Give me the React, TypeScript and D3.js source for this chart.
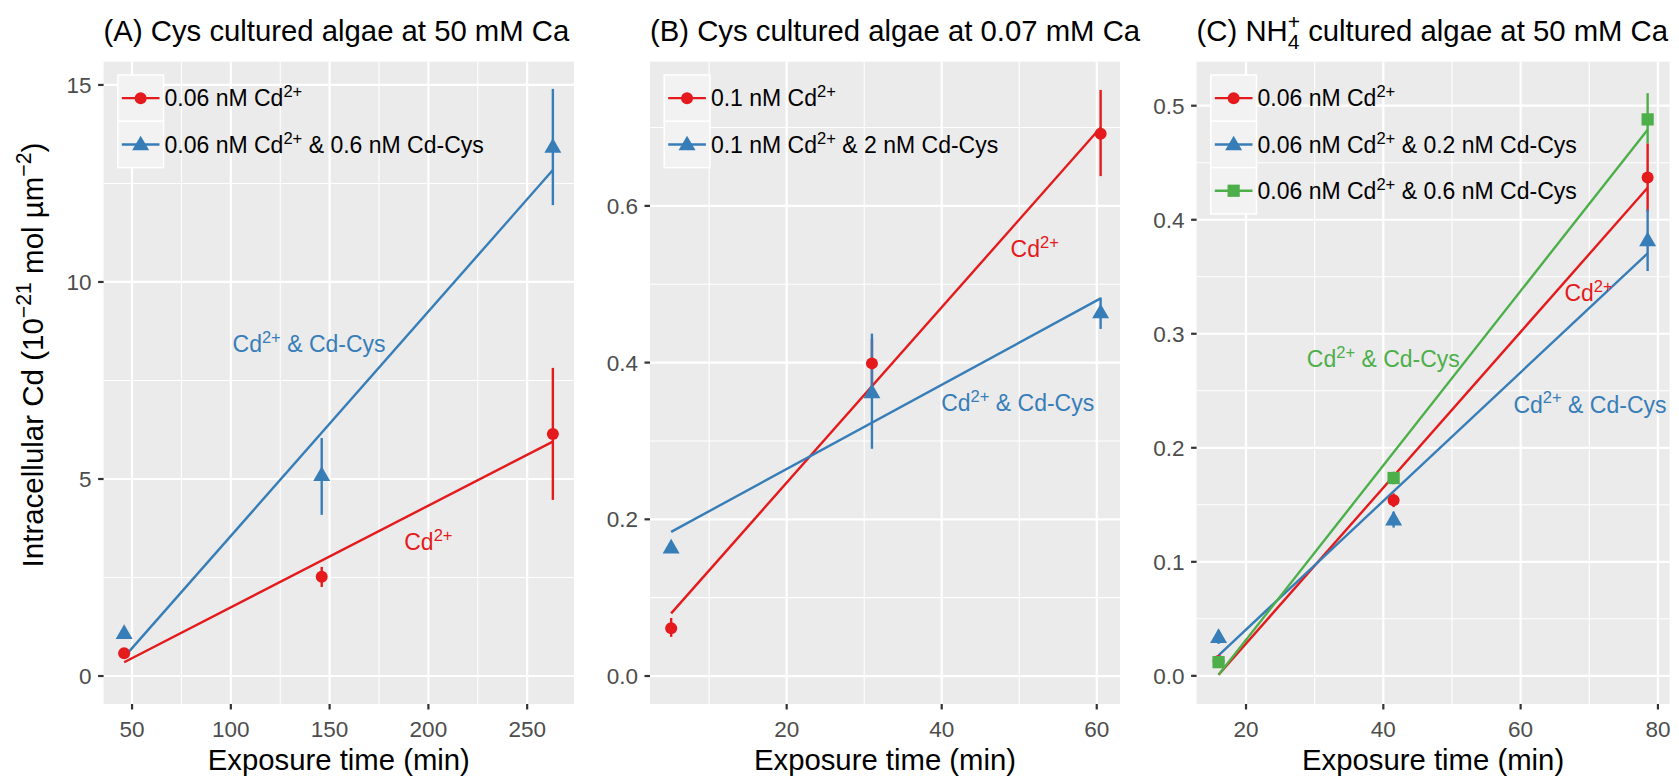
import React from 'react';
import * as d3 from 'd3';

const W = 1679;
const H = 778;
const RED = '#e41a1c';
const BLUE = '#377eb8';
const GREEN = '#4daf4a';
const FONT = '"Liberation Sans", Arial, Helvetica, sans-serif';

// ---------- Panel A data ----------
const timeA = [46, 146, 263];
const cdA = [0.58, 2.52, 6.14];
const cdA_lo = [0.48, 2.26, 4.47];
const cdA_hi = [0.68, 2.77, 7.82];
const cysA = [1.09, 5.1, 13.43];
const cysA_lo = [1.0, 4.09, 11.95];
const cysA_hi = [1.18, 6.04, 14.9];
const fitTimeA = [46, 263];
const fitCdA = [0.35, 5.95];
const fitCysA = [0.48, 12.84];
const xDomA = [35.6, 273.7];
const yDomA = [-0.71, 15.59];
const xTicksA = [50, 100, 150, 200, 250];
const yTicksA = [0, 5, 10, 15];

// ---------- Panel B data ----------
const timeB = [5.1, 31, 60.5];
const cdB = [0.061, 0.399, 0.692];
const cdB_lo = [0.05, 0.37, 0.638];
const cdB_hi = [0.074, 0.43, 0.748];
const cysB = [0.164, 0.362, 0.464];
const cysB_lo = [0.158, 0.29, 0.443];
const cysB_hi = [0.17, 0.437, 0.483];
const fitTimeB = [5.1, 60.5];
const fitCdB = [0.08, 0.7];
const fitCysB = [0.184, 0.482];
const xDomB = [2.37, 63.0];
const yDomB = [-0.0357, 0.784];
const xTicksB = [20, 40, 60];
const yTicksB = [0, 0.2, 0.4, 0.6];

// ---------- Panel C data ----------
const timeC = [16, 41.5, 78.5];
const cdC = [0.013, 0.154, 0.437];
const cdC_lo = [0.008, 0.148, 0.407];
const cdC_hi = [0.018, 0.16, 0.467];
const cys02C = [0.034, 0.137, 0.382];
const cys02C_lo = [0.028, 0.13, 0.355];
const cys02C_hi = [0.04, 0.144, 0.409];
const cys06C = [0.012, 0.1735, 0.488];
const cys06C_lo = [0.008, 0.168, 0.467];
const cys06C_hi = [0.016, 0.179, 0.511];
const fitTimeC = [16, 78.5];
const fitCdC = [0.001, 0.428];
const fitCys02C = [0.018, 0.3705];
const fitCys06C = [0.001, 0.479];
const xDomC = [12.8, 81.7];
const yDomC = [-0.0247, 0.5386];
const xTicksC = [20, 40, 60, 80];
const yTicksC = [0, 0.1, 0.2, 0.3, 0.4, 0.5];

type Shape = 'circle' | 'triangle' | 'square';
type Part = { t: string; sup?: boolean; sub?: boolean; dx?: number };
interface Series {
  color: string;
  shape: Shape;
  x: number[];
  y: number[];
  lo: number[];
  hi: number[];
  fitX: number[];
  fitY: number[];
  legend: Part[];
}
interface Note { x: number; y: number; color: string; parts: Part[] }

const CD2: Part[] = [{ t: 'Cd' }, { t: '2+', sup: true }];
const CD2CYS: Part[] = [{ t: 'Cd' }, { t: '2+', sup: true }, { t: ' & Cd-Cys' }];

function rich(parts: Part[], fs: number) {
  let cur = 0;
  return parts.map((p, i) => {
    const target = p.sup ? -0.4 * fs : p.sub ? 0.28 * fs : 0;
    const dy = target - cur;
    cur = target;
    return (
      <tspan key={i} dy={dy} dx={p.dx || 0} fontSize={p.sup || p.sub ? fs * 0.72 : fs}>
        {p.t}
      </tspan>
    );
  });
}

const PT = 61.7;
const PB = 704;
const TICK_FS = 22.5;
const LEG_FS = 23;
const TITLE_FS = 29.3;
const YTITLE_FS = 29.5;

function Marker({ shape, cx, cy, color }: { shape: Shape; cx: number; cy: number; color: string }) {
  if (shape === 'circle') return <circle cx={cx} cy={cy} r={6} fill={color} />;
  const sym = shape === 'triangle' ? d3.symbolTriangle : d3.symbolSquare;
  const size = shape === 'triangle' ? 125 : 150;
  const dy = shape === 'triangle' ? 1 : 0;
  return <path d={d3.symbol().type(sym).size(size)() || ''} transform={`translate(${cx},${cy + dy})`} fill={color} />;
}

function minorTicks(major: number[], dom: number[]) {
  const step = major[1] - major[0];
  const out: number[] = [];
  for (let v = major[0] - step / 2; v <= dom[1]; v += step) {
    if (v >= dom[0]) out.push(v);
  }
  return out;
}

interface PanelProps {
  x0: number;
  x1: number;
  xDom: number[];
  yDom: number[];
  xTicks: number[];
  yTicks: number[];
  yFmt: (v: number) => string;
  series: Series[];
  notes: Note[];
  title: Part[];
}

function Panel({ x0, x1, xDom, yDom, xTicks, yTicks, yFmt, series, notes, title }: PanelProps) {
  const xs = d3.scaleLinear().domain(xDom).range([x0, x1]);
  const ys = d3.scaleLinear().domain(yDom).range([PB, PT]);
  const line = d3.line<[number, number]>().x((d) => xs(d[0])).y((d) => ys(d[1]));
  const xMinor = minorTicks(xTicks, xDom);
  const yMinor = minorTicks(yTicks, yDom);
  const keyW = 45.7;
  const keyH = 46.3;
  const legX = x0 + 14.2;
  const legY = PT + 13.3;
  return (
    <g>
      <rect x={x0} y={PT} width={x1 - x0} height={PB - PT} fill="#ebebeb" />
      {xMinor.map((v) => (
        <line key={'xm' + v} x1={xs(v)} x2={xs(v)} y1={PT} y2={PB} stroke="#fff" strokeWidth={1.1} />
      ))}
      {yMinor.map((v) => (
        <line key={'ym' + v} x1={x0} x2={x1} y1={ys(v)} y2={ys(v)} stroke="#fff" strokeWidth={1.1} />
      ))}
      {xTicks.map((v) => (
        <line key={'xM' + v} x1={xs(v)} x2={xs(v)} y1={PT} y2={PB} stroke="#fff" strokeWidth={2.2} />
      ))}
      {yTicks.map((v) => (
        <line key={'yM' + v} x1={x0} x2={x1} y1={ys(v)} y2={ys(v)} stroke="#fff" strokeWidth={2.2} />
      ))}
      {series.map((s, i) => (
        <path
          key={'fit' + i}
          d={line(s.fitX.map((x, j) => [x, s.fitY[j]] as [number, number])) || ''}
          fill="none"
          stroke={s.color}
          strokeWidth={2.4}
        />
      ))}
      {series.map((s, i) => (
        <g key={'eb' + i}>
          {s.x.map((x, j) => (
            <line key={j} x1={xs(x)} x2={xs(x)} y1={ys(s.lo[j])} y2={ys(s.hi[j])} stroke={s.color} strokeWidth={2.4} />
          ))}
        </g>
      ))}
      {series.map((s, i) => (
        <g key={'pt' + i}>
          {s.x.map((x, j) => (
            <Marker key={j} shape={s.shape} cx={xs(x)} cy={ys(s.y[j])} color={s.color} />
          ))}
        </g>
      ))}
      {/* legend */}
      {series.map((s, i) => {
        const ky = legY + i * keyH;
        return (
          <g key={'lg' + i}>
            <rect x={legX} y={ky} width={keyW} height={keyH} fill="#f2f2f2" stroke="#fff" strokeWidth={1.5} />
            <line x1={legX + 4} x2={legX + keyW - 4} y1={ky + keyH / 2} y2={ky + keyH / 2} stroke={s.color} strokeWidth={2.4} />
            <Marker shape={s.shape} cx={legX + keyW / 2} cy={ky + keyH / 2} color={s.color} />
            <text
              x={legX + keyW + 1}
              y={ky + keyH / 2 + 0.36 * LEG_FS}
              fontSize={LEG_FS}
              fill="#000"
              style={{ whiteSpace: 'pre' }}
            >
              {rich(s.legend, LEG_FS)}
            </text>
          </g>
        );
      })}
      {notes.map((n, i) => (
        <text
          key={'nt' + i}
          x={xs(n.x)}
          y={ys(n.y) + 0.35 * LEG_FS}
          fontSize={LEG_FS}
          fill={n.color}
          textAnchor="middle"
          style={{ whiteSpace: 'pre' }}
        >
          {rich(n.parts, LEG_FS)}
        </text>
      ))}
      {/* axes */}
      {xTicks.map((v) => (
        <g key={'xt' + v}>
          <line x1={xs(v)} x2={xs(v)} y1={PB} y2={PB + 5.5} stroke="#333" strokeWidth={2.2} />
          <text x={xs(v)} y={PB + 33} fontSize={TICK_FS} fill="#4d4d4d" textAnchor="middle">
            {String(v)}
          </text>
        </g>
      ))}
      {yTicks.map((v) => (
        <g key={'yt' + v}>
          <line x1={x0 - 5.5} x2={x0} y1={ys(v)} y2={ys(v)} stroke="#333" strokeWidth={2.2} />
          <text x={x0 - 12} y={ys(v) + 0.36 * TICK_FS} fontSize={TICK_FS} fill="#4d4d4d" textAnchor="end">
            {yFmt(v)}
          </text>
        </g>
      ))}
      <text x={(x0 + x1) / 2} y={770} fontSize={TITLE_FS} fill="#000" textAnchor="middle">
        Exposure time (min)
      </text>
      <text x={x0} y={41} fontSize={TITLE_FS} fill="#000" style={{ whiteSpace: 'pre' }}>
        {rich(title, TITLE_FS)}
      </text>
    </g>
  );
}

export default function App() {
  const seriesA: Series[] = [
    { color: RED, shape: 'circle', x: timeA, y: cdA, lo: cdA_lo, hi: cdA_hi, fitX: fitTimeA, fitY: fitCdA,
      legend: [{ t: '0.06 nM Cd' }, { t: '2+', sup: true }] },
    { color: BLUE, shape: 'triangle', x: timeA, y: cysA, lo: cysA_lo, hi: cysA_hi, fitX: fitTimeA, fitY: fitCysA,
      legend: [{ t: '0.06 nM Cd' }, { t: '2+', sup: true }, { t: ' & 0.6 nM Cd-Cys' }] },
  ];
  const notesA: Note[] = [
    { x: 139.6, y: 8.43, color: BLUE, parts: CD2CYS },
    { x: 200, y: 3.4, color: RED, parts: CD2 },
  ];
  const seriesB: Series[] = [
    { color: RED, shape: 'circle', x: timeB, y: cdB, lo: cdB_lo, hi: cdB_hi, fitX: fitTimeB, fitY: fitCdB,
      legend: [{ t: '0.1 nM Cd' }, { t: '2+', sup: true }] },
    { color: BLUE, shape: 'triangle', x: timeB, y: cysB, lo: cysB_lo, hi: cysB_hi, fitX: fitTimeB, fitY: fitCysB,
      legend: [{ t: '0.1 nM Cd' }, { t: '2+', sup: true }, { t: ' & 2 nM Cd-Cys' }] },
  ];
  const notesB: Note[] = [
    { x: 52, y: 0.545, color: RED, parts: CD2 },
    { x: 49.8, y: 0.3485, color: BLUE, parts: CD2CYS },
  ];
  const seriesC: Series[] = [
    { color: RED, shape: 'circle', x: timeC, y: cdC, lo: cdC_lo, hi: cdC_hi, fitX: fitTimeC, fitY: fitCdC,
      legend: [{ t: '0.06 nM Cd' }, { t: '2+', sup: true }] },
    { color: BLUE, shape: 'triangle', x: timeC, y: cys02C, lo: cys02C_lo, hi: cys02C_hi, fitX: fitTimeC, fitY: fitCys02C,
      legend: [{ t: '0.06 nM Cd' }, { t: '2+', sup: true }, { t: ' & 0.2 nM Cd-Cys' }] },
    { color: GREEN, shape: 'square', x: timeC, y: cys06C, lo: cys06C_lo, hi: cys06C_hi, fitX: fitTimeC, fitY: fitCys06C,
      legend: [{ t: '0.06 nM Cd' }, { t: '2+', sup: true }, { t: ' & 0.6 nM Cd-Cys' }] },
  ];
  const notesC: Note[] = [
    { x: 40, y: 0.278, color: GREEN, parts: CD2CYS },
    { x: 69.9, y: 0.336, color: RED, parts: CD2 },
    { x: 70.1, y: 0.238, color: BLUE, parts: CD2CYS },
  ];
  const subW = 0.556 * 0.72 * TITLE_FS;
  const titleC: Part[] = [
    { t: '(C) NH' },
    { t: '4', sub: true },
    { t: '+', sup: true, dx: -subW },
    { t: ' cultured algae at 50 mM Ca' },
  ];
  const yTitle: Part[] = [
    { t: 'Intracellular Cd (10' },
    { t: '\u221221', sup: true },
    { t: ' mol \u00b5m' },
    { t: '\u22122', sup: true },
    { t: ')' },
  ];
  return (
    <svg
      width={W}
      height={H}
      viewBox={`0 0 ${W} ${H}`}
      style={{ position: 'absolute', left: 0, top: 0, display: 'block', background: '#fff' }}
      fontFamily={FONT}
    >
      <rect x={0} y={0} width={W} height={H} fill="#fff" />
      <Panel x0={103.6} x1={574} xDom={xDomA} yDom={yDomA} xTicks={xTicksA} yTicks={yTicksA}
        yFmt={(v) => d3.format('d')(v)} series={seriesA} notes={notesA}
        title={[{ t: '(A) Cys cultured algae at 50 mM Ca' }]} />
      <Panel x0={650} x1={1120} xDom={xDomB} yDom={yDomB} xTicks={xTicksB} yTicks={yTicksB}
        yFmt={(v) => d3.format('.1f')(v)} series={seriesB} notes={notesB}
        title={[{ t: '(B) Cys cultured algae at 0.07 mM Ca' }]} />
      <Panel x0={1196.6} x1={1669.6} xDom={xDomC} yDom={yDomC} xTicks={xTicksC} yTicks={yTicksC}
        yFmt={(v) => d3.format('.1f')(v)} series={seriesC} notes={notesC} title={titleC} />
      <text
        transform={`translate(43,355) rotate(-90)`}
        fontSize={YTITLE_FS}
        fill="#000"
        textAnchor="middle"
        style={{ whiteSpace: 'pre' }}
      >
        {rich(yTitle, YTITLE_FS)}
      </text>
    </svg>
  );
}
